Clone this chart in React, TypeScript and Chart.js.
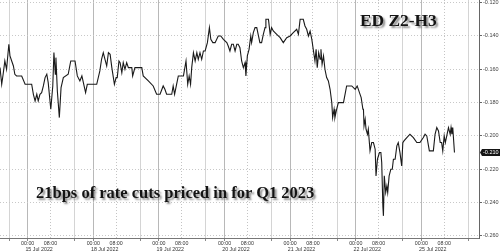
import React, { useEffect, useRef } from "react";
import { Chart, registerables } from "chart.js";

Chart.register(...registerables);

// Trading hours since 15 Jul 2022 00:00 (each session = 23 trading hours)
const hours = [
  -9.7, -9.1, -8.6, -8.0, -7.4, -6.6, -6.2, -5.6, -5.0, -4.5,
  -3.9, -2.1, -0.9, 1.4, 2.0, 2.6, 3.2, 3.7, 4.3, 4.9,
  5.5, 6.1, 6.7, 7.2, 8.1, 8.8, 9.2, 9.7, 9.9, 10.4,
  11.1, 11.7, 12.5, 14.2, 15.1, 16.6, 17.4, 18.3, 19.0, 20.3,
  20.9, 24.2, 25.3, 25.9, 26.5, 27.1, 27.7, 28.3, 28.9, 29.5,
  30.4, 31.0, 31.4, 32.0, 32.4, 33.0, 33.5, 34.1, 34.7, 35.3,
  36.5, 36.8, 37.6, 40.0, 40.5, 42.3, 44.0, 45.2, 46.4, 47.5,
  48.1, 48.7, 50.5, 51.0, 51.5, 52.2, 52.8, 54.6, 55.5, 56.1,
  56.6, 57.1, 57.5, 58.1, 58.7, 59.3, 59.8, 60.4, 61.0, 61.6,
  62.2, 63.0, 63.7, 64.2, 64.9, 65.7, 66.8, 67.7, 68.6, 69.8,
  70.3, 70.9, 71.5, 72.1, 72.7, 73.3, 73.8, 74.4, 75.0, 75.6,
  76.2, 76.5, 77.0, 77.6, 78.2, 78.5, 79.1, 79.7, 80.3, 80.9,
  81.4, 82.0, 82.6, 83.2, 83.5, 84.4, 85.0, 85.5, 86.1, 87.3,
  88.5, 89.6, 90.8, 92.0, 93.1, 94.3, 94.9, 95.5, 96.6, 97.2,
  97.8, 98.4, 99.0, 99.6, 100.1, 100.7, 101.1, 101.5, 102.0, 102.5,
  102.8, 103.2, 103.7, 104.2, 104.8, 105.4, 106.0, 106.6, 106.9, 107.4,
  107.7, 108.3, 108.9, 110.7, 111.8, 113.6, 114.8, 115.5, 116.3, 116.9,
  117.5, 117.7, 117.9, 118.3, 118.6, 119.1, 119.4, 120.0, 120.6, 121.2,
  121.8, 122.1, 122.6, 123.3, 123.8, 124.1, 124.5, 124.7, 125.0, 125.5,
  125.9, 126.2, 126.7, 127.3, 127.8, 128.2, 128.8, 129.4, 129.9, 130.5,
  131.1, 131.5, 131.9, 132.9, 134.0, 135.2, 136.4, 137.5, 138.7, 139.3,
  139.9, 140.8, 142.2, 142.8, 143.4, 144.0, 144.6, 145.1, 145.5, 146.0,
  146.4, 146.9, 147.5, 148.1, 148.4, 148.7, 149.0, 149.6,
];

const values = [
  -0.159, -0.169, -0.163, -0.155, -0.160, -0.145, -0.152, -0.155, -0.158, -0.163,
  -0.164, -0.164, -0.169, -0.169, -0.175, -0.179, -0.175, -0.179, -0.175, -0.174,
  -0.170, -0.165, -0.163, -0.168, -0.184, -0.170, -0.150, -0.163, -0.153, -0.173,
  -0.189, -0.171, -0.165, -0.163, -0.155, -0.155, -0.164, -0.167, -0.164, -0.174,
  -0.169, -0.169, -0.161, -0.154, -0.150, -0.154, -0.158, -0.150, -0.151, -0.159,
  -0.169, -0.165, -0.165, -0.155, -0.156, -0.162, -0.156, -0.160, -0.156, -0.159,
  -0.159, -0.164, -0.159, -0.159, -0.164, -0.167, -0.170, -0.175, -0.175, -0.170,
  -0.172, -0.175, -0.175, -0.170, -0.175, -0.169, -0.164, -0.164, -0.155, -0.169,
  -0.164, -0.169, -0.159, -0.150, -0.155, -0.150, -0.154, -0.150, -0.154, -0.149,
  -0.149, -0.144, -0.135, -0.142, -0.144, -0.144, -0.140, -0.140, -0.142, -0.144,
  -0.146, -0.149, -0.145, -0.145, -0.149, -0.145, -0.145, -0.147, -0.155, -0.159,
  -0.156, -0.164, -0.152, -0.148, -0.140, -0.144, -0.138, -0.135, -0.135, -0.140,
  -0.144, -0.144, -0.139, -0.135, -0.130, -0.130, -0.139, -0.135, -0.137, -0.139,
  -0.141, -0.144, -0.141, -0.140, -0.138, -0.136, -0.139, -0.130, -0.130, -0.134,
  -0.136, -0.140, -0.137, -0.142, -0.148, -0.155, -0.148, -0.159, -0.150, -0.154,
  -0.148, -0.157, -0.152, -0.160, -0.165, -0.167, -0.172, -0.180, -0.189, -0.184,
  -0.189, -0.184, -0.180, -0.180, -0.170, -0.170, -0.172, -0.170, -0.174, -0.177,
  -0.184, -0.184, -0.194, -0.190, -0.196, -0.199, -0.196, -0.209, -0.204, -0.204,
  -0.208, -0.224, -0.214, -0.210, -0.210, -0.216, -0.242, -0.248, -0.224, -0.234,
  -0.230, -0.234, -0.224, -0.220, -0.220, -0.214, -0.214, -0.206, -0.204, -0.210,
  -0.218, -0.204, -0.203, -0.201, -0.199, -0.201, -0.204, -0.204, -0.201, -0.199,
  -0.200, -0.209, -0.209, -0.199, -0.195, -0.197, -0.204, -0.204, -0.209, -0.200,
  -0.204, -0.200, -0.195, -0.199, -0.195, -0.199, -0.195, -0.210,
];

const dayLabels = [
  "15 Jul 2022",
  "18 Jul 2022",
  "19 Jul 2022",
  "20 Jul 2022",
  "21 Jul 2022",
  "22 Jul 2022",
  "25 Jul 2022",
];
const timeLabels = ["00:00", "08:00"];
const timeOffsets = [0, 8];
const DATE_OFFSET = 4;
const SESSION_HOURS = 23;
const SESSION_OPEN = -6.5;
const X_MIN = -9.7;
const X_MAX = 158.2;
const Y_MIN = -0.2613;
const Y_MAX = -0.1184;
const Y_STEP = 0.02;

const titleText = "ED Z2-H3";
const noteText = "21bps of rate cuts priced in for Q1 2023";

const SANS = "'Liberation Sans', Arial, sans-serif";

const lastTag = {
  id: "lastTag",
  afterDraw(chart: any) {
    const { ctx, chartArea } = chart;
    const y = chart.scales.y;
    const v = values[values.length - 1];
    const py = y.getPixelForValue(v);
    const x0 = chartArea.right + 1;
    ctx.save();
    ctx.fillStyle = "#151515";
    ctx.beginPath();
    ctx.moveTo(x0, py);
    ctx.lineTo(x0 + 2, py - 3.5);
    ctx.lineTo(500, py - 3.5);
    ctx.lineTo(500, py + 3.5);
    ctx.lineTo(x0 + 2, py + 3.5);
    ctx.closePath();
    ctx.fill();
    ctx.fillStyle = "#ffffff";
    ctx.font = "5.5px " + SANS;
    ctx.textBaseline = "middle";
    ctx.textAlign = "left";
    ctx.fillText(v.toFixed(3), x0 + 3, py + 0.3);
    ctx.restore();
  },
};

// time-of-day and date labels under the x axis, positioned with the x scale
const bottomLabels = {
  id: "bottomLabels",
  afterDraw(chart: any) {
    const { ctx } = chart;
    const xs = chart.scales.x;
    ctx.save();
    ctx.fillStyle = "#333";
    ctx.font = "5.3px " + SANS;
    ctx.textAlign = "center";
    ctx.textBaseline = "alphabetic";
    for (let d = 0; d < dayLabels.length; d++) {
      ctx.fillText(dayLabels[d], xs.getPixelForValue(d * SESSION_HOURS + DATE_OFFSET), xs.top + 12.6);
    }
    for (let d = 0; d < dayLabels.length; d++) {
      for (let k = 0; k < timeLabels.length; k++) {
        const px = xs.getPixelForValue(d * SESSION_HOURS + timeOffsets[k]);
        ctx.fillText(timeLabels[k], px, xs.top + 7);
      }
    }
    ctx.restore();
  },
};

function gridOnlyAxis(position: string, tickValues: () => number[], color: string, dash: number[]) {
  return {
    type: "linear",
    position,
    min: X_MIN,
    max: X_MAX,
    afterBuildTicks: (s: any) => {
      s.ticks = tickValues().map((value) => ({ value }));
    },
    afterFit: (s: any) => {
      s.height = 0;
      s.paddingLeft = 0;
      s.paddingRight = 0;
    },
    ticks: { display: false },
    grid: { color, lineWidth: 1, drawTicks: false },
    border: { display: false, dash },
  };
}

export default function App() {
  const ref = useRef<HTMLCanvasElement | null>(null);

  useEffect(() => {
    document.body.style.margin = "0";
    const canvas = ref.current;
    if (!canvas) return;
    const points = hours.map((h, i) => ({ x: h, y: values[i] }));
    const nDays = dayLabels.length;

    const sepValues = () => {
      const t: number[] = [];
      for (let d = 0; d <= nDays; d++) t.push(d * SESSION_HOURS + SESSION_OPEN);
      return t;
    };
    const dotValues = () => {
      const t: number[] = [];
      for (let d = 0; d < nDays; d++) t.push(d * SESSION_HOURS + timeOffsets[1]);
      return t;
    };

    const chart = new Chart(canvas, {
      type: "line",
      data: {
        datasets: [
          {
            data: points,
            borderColor: "#1a1a1a",
            borderWidth: 1.1,
            pointRadius: 0,
            tension: 0,
            xAxisID: "x",
            yAxisID: "y",
          },
        ],
      },
      options: {
        responsive: false,
        animation: false,
        events: [],
        layout: { padding: 0 },
        plugins: {
          legend: { display: false },
          tooltip: { enabled: false },
        },
        scales: {
          xdot: gridOnlyAxis("top", dotValues, "#c4c4c4", [1, 2]),
          xsep: gridOnlyAxis("top", sepValues, "#d4d4d4", []),
          x: {
            type: "linear",
            position: "bottom",
            min: X_MIN,
            max: X_MAX,
            afterBuildTicks: (s: any) => {
              const t: any[] = [];
              for (let d = 0; d <= nDays; d++) {
                t.push({ value: d * SESSION_HOURS + SESSION_OPEN });
                if (d < nDays) t.push({ value: d * SESSION_HOURS + timeOffsets[0] });
              }
              s.ticks = t;
            },
            afterFit: (s: any) => {
              s.height = 13;
              s.paddingLeft = 0;
              s.paddingRight = 0;
            },
            ticks: { display: false },
            grid: {
              drawTicks: true,
              tickLength: 3,
              color: (c: any) => (c.index % 2 === 1 ? "#b8b8b8" : "rgba(0,0,0,0)"),
              tickColor: "#8a8a8a",
              lineWidth: 1,
            },
            border: { display: true, color: "#777", width: 1 },
          },
          y: {
            type: "linear",
            position: "right",
            min: Y_MIN,
            max: Y_MAX,
            afterFit: (s: any) => {
              s.width = 21;
              s.paddingTop = 0;
              s.paddingBottom = 0;
            },
            ticks: {
              stepSize: Y_STEP,
              includeBounds: false,
              padding: 1,
              color: "#444",
              font: { family: SANS, size: 5.5 },
              callback: (v: any) => Number(v).toFixed(3),
            },
            grid: {
              color: "#c8c8c8",
              lineWidth: 1,
              drawTicks: true,
              tickLength: 3,
              tickColor: "#666",
            },
            border: { display: true, color: "#666", width: 1, dash: [1, 2] },
          },
        },
      } as any,
      plugins: [lastTag, bottomLabels],
    });
    return () => chart.destroy();
  }, []);

  const textStyle: React.CSSProperties = {
    position: "absolute",
    margin: 0,
    fontFamily: "'Liberation Serif', 'Times New Roman', serif",
    fontWeight: "bold",
    color: "#141414",
    whiteSpace: "nowrap",
    lineHeight: 1,
    textShadow: "2px 2px 2px rgba(0,0,0,0.45)",
    pointerEvents: "none",
  };

  return (
    <div
      style={{
        position: "fixed",
        left: 0,
        top: 0,
        width: 500,
        height: 251,
        background: "#ffffff",
        overflow: "hidden",
      }}
    >
      <canvas ref={ref} width={500} height={251} style={{ display: "block" }} />
      <div style={{ ...textStyle, left: 360, top: 12, fontSize: 17.4 }}>{titleText}</div>
      <div style={{ ...textStyle, left: 36, top: 185, fontSize: 16.5 }}>{noteText}</div>
    </div>
  );
}
